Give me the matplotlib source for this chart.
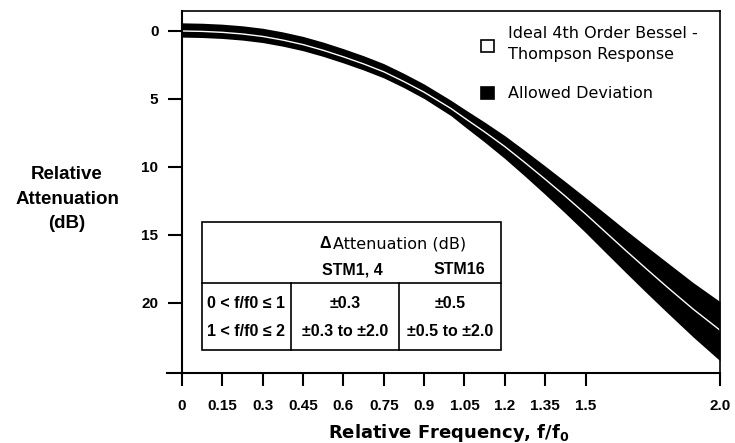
import matplotlib
matplotlib.use("Agg")
import matplotlib.pyplot as plt
from matplotlib.patches import Rectangle
from matplotlib.lines import Line2D

# ---------------- data ----------------
freq = [0.0, 0.075, 0.15, 0.225, 0.3, 0.375, 0.45, 0.525, 0.6, 0.675, 0.75,
        0.825, 0.9, 0.95, 1.0, 1.05, 1.125, 1.2, 1.275, 1.35, 1.425, 1.5,
        1.575, 1.65, 1.725, 1.8, 1.9, 2.0]
atten = [0.0, 0.03, 0.1, 0.22, 0.4, 0.67, 1.0, 1.42, 1.9, 2.42, 3.0,
         3.72, 4.5, 5.1, 5.7, 6.4, 7.42, 8.5, 9.68, 10.9, 12.15, 13.45,
         14.8, 16.15, 17.47, 18.77, 20.45, 22.0]
dev_upper = [0.6, 0.6, 0.6, 0.6, 0.6, 0.6, 0.6, 0.6, 0.6, 0.6, 0.6,
             0.6, 0.6, 0.6, 0.6, 0.65, 0.72, 0.8, 0.88, 0.97, 1.07, 1.2,
             1.35, 1.5, 1.65, 1.8, 1.95, 2.1]
dev_lower = [0.45, 0.45, 0.45, 0.45, 0.45, 0.45, 0.45, 0.45, 0.45, 0.45, 0.45,
             0.45, 0.47, 0.5, 0.53, 0.62, 0.75, 0.88, 1.0, 1.12, 1.25, 1.37,
             1.5, 1.62, 1.75, 1.87, 2.05, 2.25]

xticks = [0, 0.15, 0.3, 0.45, 0.6, 0.75, 0.9, 1.05, 1.2, 1.35, 1.5, 2.0]
xtick_labels = ["0", "0.15", "0.3", "0.45", "0.6", "0.75", "0.9", "1.05",
                "1.2", "1.35", "1.5", "2.0"]
yticks = [0, 5, 10, 15, 20]

table_header = "Attenuation (dB)"
table_cols = ["STM1, 4", "STM16"]
table_rows = ["0 < f/f0 \u2264 1", "1 < f/f0 \u2264 2"]
table_vals = [["\u00b10.3", "\u00b10.5"],
              ["\u00b10.3 to \u00b12.0", "\u00b10.5 to \u00b12.0"]]

legend_labels = ["Ideal 4th Order Bessel -\nThompson Response", "Allowed Deviation"]

# ---------------- figure ----------------
W, H = 735, 443
fig = plt.figure(figsize=(W / 100, H / 100), dpi=100)
FONT = "Liberation Sans"
plt.rcParams["font.family"] = [FONT, "DejaVu Sans"]
REG = ["DejaVu Sans"]


def fx(px):
    return px / W


def fy(py):
    return 1 - py / H


ax_l, ax_r, ax_t, ax_b = 182, 720, 11, 373
ax = fig.add_axes([fx(ax_l), fy(ax_b), fx(ax_r) - fx(ax_l), fy(ax_t) - fy(ax_b)])

lower = [a - d for a, d in zip(atten, dev_upper)]
upper = [a + d for a, d in zip(atten, dev_lower)]
ax.fill_between(freq, lower, upper, color="black", linewidth=0)
ax.plot(freq, atten, color="white", linewidth=1.0)

ax.set_xlim(0, 2.0)
ax.set_ylim(25.15, -1.47)

ax.set_xticks(xticks)
ax.set_xticklabels(xtick_labels, fontsize=11, fontweight="bold")
ax.set_yticks(yticks)
ax.set_yticklabels([str(v) for v in yticks], fontsize=11, fontweight="bold")
ax.tick_params(axis="x", direction="out", length=9, width=1.5, pad=10, color="black")
ax.tick_params(axis="y", direction="out", length=10, width=1.5, pad=7, color="black")
for s in ax.spines.values():
    s.set_linewidth(1.2)
ax.spines["left"].set_linewidth(1.5)
ax.spines["bottom"].set_linewidth(1.5)

# x-axis line extends to the left of the y axis
ax.add_line(Line2D([-15 / 538, 0], [0, 0], transform=ax.transAxes,
                   color="black", linewidth=1.5, clip_on=False))

# axis labels
fig.text(fx(67), fy(199), "Relative\nAttenuation\n(dB)", ha="center", va="center",
         fontsize=13.5, fontweight="bold", linespacing=1.55)
fig.text(fx(449), fy(433), "Relative Frequency, f/f$_\\mathregular{0}$", ha="center",
         va="center", fontsize=13, fontweight="bold", family=REG)

# legend
fig.patches.append(Rectangle((fx(481), fy(52)), fx(13), fy(0) - fy(12),
                             transform=fig.transFigure, facecolor="white",
                             edgecolor="black", linewidth=1.2))
fig.patches.append(Rectangle((fx(481), fy(99)), fx(13), fy(0) - fy(12),
                             transform=fig.transFigure, facecolor="black",
                             edgecolor="black", linewidth=1.2))
fig.text(fx(508), fy(44), legend_labels[0], ha="left", va="center", fontsize=11.5,
         linespacing=1.45, family=REG)
fig.text(fx(508), fy(93), legend_labels[1], ha="left", va="center", fontsize=11.5,
         family=REG)

# inset table
tx0, tx1, ty0, ty1 = 202, 501, 222, 350
ydiv, xdiv1, xdiv2 = 283, 291, 399
lw = 1.2
fig.patches.append(Rectangle((fx(tx0), fy(ty1)), fx(tx1) - fx(tx0), fy(ty0) - fy(ty1),
                             transform=fig.transFigure, facecolor="white",
                             edgecolor="black", linewidth=lw))
fig.lines.append(Line2D([fx(tx0), fx(tx1)], [fy(ydiv), fy(ydiv)],
                        transform=fig.transFigure, color="black", linewidth=lw))
for xd in (xdiv1, xdiv2):
    fig.lines.append(Line2D([fx(xd), fx(xd)], [fy(ydiv), fy(ty1)],
                            transform=fig.transFigure, color="black", linewidth=lw))

fig.text(fx(331), fy(244), "\u0394", ha="right", va="center", fontsize=11.5,
         fontweight="bold")
fig.text(fx(333), fy(244), table_header, ha="left", va="center", fontsize=11.5,
         family=REG)
fig.text(fx(352), fy(270), table_cols[0], ha="center", va="center", fontsize=11.5,
         fontweight="bold")
fig.text(fx(459), fy(270), table_cols[1], ha="center", va="center", fontsize=11.5,
         fontweight="bold")
row_y = [303, 332]
col_x = [246, 345, 450]
for r in range(2):
    fig.text(fx(col_x[0]), fy(row_y[r]), table_rows[r], ha="center", va="center",
             fontsize=11.5, fontweight="bold")
    for c in range(2):
        fig.text(fx(col_x[c + 1]), fy(row_y[r]), table_vals[r][c], ha="center",
                 va="center", fontsize=11.5, fontweight="bold")

fig.savefig("out.png", dpi=100, facecolor="white")
